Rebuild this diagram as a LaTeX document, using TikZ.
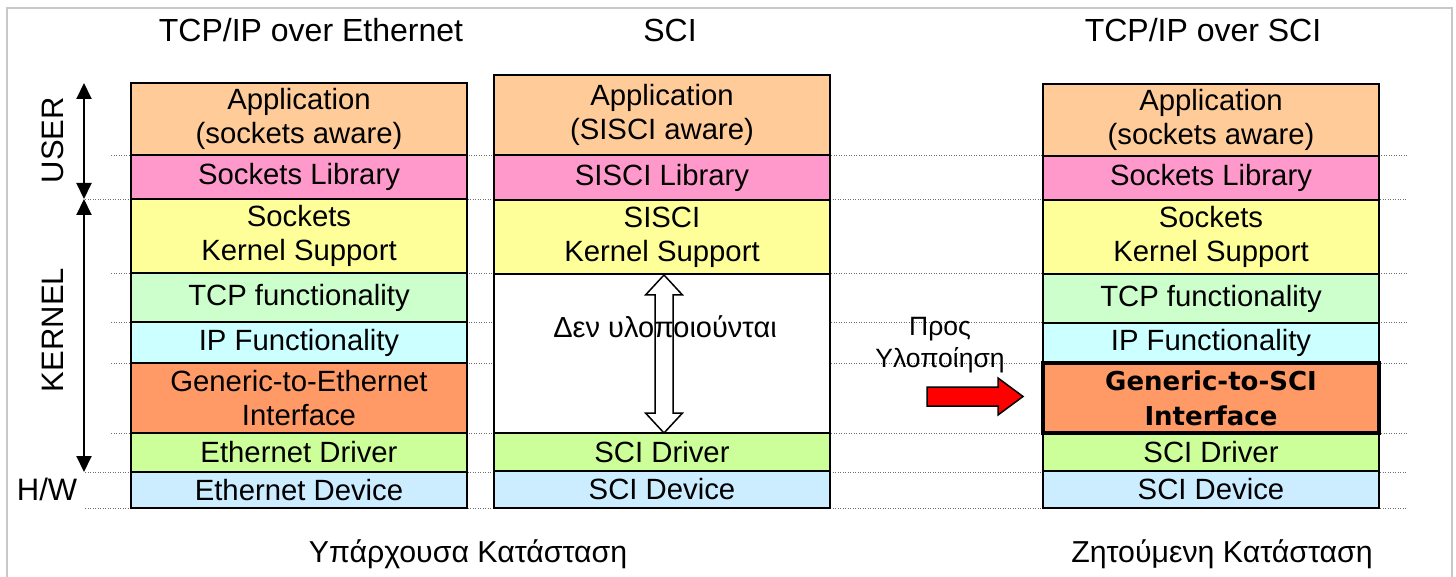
\documentclass[tikz,border=0pt]{standalone}
\usepackage{fontspec}
\setmainfont{Liberation Sans}
\newfontfamily\widebold{DejaVu Sans}
\usetikzlibrary{arrows.meta,calc}

\definecolor{appc}{RGB}{255,204,153}
\definecolor{libc}{RGB}{255,153,204}
\definecolor{ksc}{RGB}{255,255,153}
\definecolor{tcpc}{RGB}{204,255,204}
\definecolor{ipc}{RGB}{204,255,255}
\definecolor{genc}{RGB}{255,153,102}
\definecolor{drvc}{RGB}{204,255,153}
\definecolor{devc}{RGB}{204,236,255}
\definecolor{framec}{RGB}{200,200,200}
\definecolor{guidec}{RGB}{110,110,110}
\definecolor{pushred}{RGB}{255,0,0}

\tikzset{
  layer/.style={draw=black, line width=2pt, minimum width=336pt, inner sep=0pt,
    align=center, text=black, font=\fontsize{29.3}{34}\selectfont},
  guide/.style={draw=guidec, line width=0.9pt, dash pattern=on 1.2pt off 1.3pt},
  heading/.style={anchor=base, inner sep=0pt, font=\fontsize{32}{38}\selectfont},
  sidelabel/.style={anchor=base, inner sep=0pt, font=\fontsize{31}{37}\selectfont},
  caption/.style={anchor=base, inner sep=0pt, font=\fontsize{30.3}{36}\selectfont},
  note/.style={anchor=base, inner sep=0pt, font=\fontsize{26.5}{32}\selectfont},
  span/.style={line width=2pt,
    {Triangle[width=15pt,length=16pt]}-{Triangle[width=15pt,length=16pt]}},
}

\begin{document}
\begin{tikzpicture}[x=1pt,y=-1pt]
\useasboundingbox (0,0) rectangle (1456,577);

% outer frame (open at the bottom)
\draw[framec, line width=2pt] (7,577) -- (7,8) -- (1452,8) -- (1452,577);

% dotted level guides behind the stacks
\foreach \yy/\xs in {155/111, 199/85, 273/111, 322/111, 363/111, 433/111, 472/85, 508/85}
  \draw[guide] (\xs,\yy) -- (1407,\yy);

% titles
\node[heading] (h-eth) at (311,42) {TCP/IP over Ethernet};
\node[heading] (h-sci) at (670,42) {SCI};
\node[heading] (h-tcpsci) at (1203,42) {TCP/IP over SCI};

% stack: TCP/IP over Ethernet
\node[layer, fill=appc, minimum height=72pt] (e-app) at (299,119) {Application\\(sockets aware)};
\node[layer, fill=libc, minimum height=44pt] (e-lib) at (299,177) {Sockets Library};
\node[layer, fill=ksc,  minimum height=74pt] (e-ks)  at (299,236) {Sockets\\Kernel Support};
\node[layer, fill=tcpc, minimum height=49pt] (e-tcp) at (299,297.5) {TCP functionality};
\node[layer, fill=ipc,  minimum height=41pt] (e-ip)  at (299,342.5) {IP Functionality};
\node[layer, fill=genc, minimum height=70pt] (e-gen) at (299,398) {Generic-to-Ethernet\\Interface};
\node[layer, fill=drvc, minimum height=39pt] (e-drv) at (299,452.5) {Ethernet Driver};
\node[layer, fill=devc, minimum height=36pt] (e-dev) at (299,490) {Ethernet Device};

% stack: SCI
\node[layer, fill=appc, minimum height=80pt] (s-app) at (662,115) {Application\\(SISCI aware)};
\node[layer, fill=libc, minimum height=45pt] (s-lib) at (662,177.5) {SISCI Library};
\node[layer, fill=ksc,  minimum height=74pt] (s-ks)  at (662,237) {SISCI\\Kernel Support};
\node[layer, fill=white, minimum height=159pt] (s-gap) at (662,353.5) {};
\node[layer, fill=drvc, minimum height=38pt] (s-drv) at (662,452) {SCI Driver};
\node[layer, fill=devc, minimum height=37pt] (s-dev) at (662,489.5) {SCI Device};

% stack: TCP/IP over SCI
\node[layer, fill=appc, minimum height=72pt] (t-app) at (1211,120) {Application\\(sockets aware)};
\node[layer, fill=libc, minimum height=44pt] (t-lib) at (1211,178) {Sockets Library};
\node[layer, fill=ksc,  minimum height=74pt] (t-ks)  at (1211,237) {Sockets\\Kernel Support};
\node[layer, fill=tcpc, minimum height=49pt] (t-tcp) at (1211,298.5) {TCP functionality};
\node[layer, fill=ipc,  minimum height=40pt] (t-ip)  at (1211,343) {IP Functionality};
\node[layer, fill=drvc, minimum height=38pt] (t-drv) at (1211,452) {SCI Driver};
\node[layer, fill=devc, minimum height=37pt] (t-dev) at (1211,489.5) {SCI Device};
\node[layer, fill=genc, minimum height=70pt, line width=3.5pt,
      font=\widebold\bfseries\fontsize{26}{35}\selectfont] (t-gen) at (1211,398) {Generic-to-SCI\\Interface};

% privilege levels on the left
\coordinate (user-top) at (84,83);
\coordinate (split) at (84,199);
\coordinate (kernel-bot) at (84,472);
\draw[span] (user-top) -- (split);
\draw[span] (split) -- (kernel-bot);
\node[sidelabel, rotate=90] (l-user) at (63,140) {USER};
\node[sidelabel, rotate=90] (l-kernel) at (63,330) {KERNEL};
\node[sidelabel] (l-hw) at (47,500) {H/W};

% layers missing from the SCI stack
\draw[line width=1.5pt] (664,275) -- (682.5,295) -- (673,295) -- (673,413) -- (682.5,413)
  -- (664,433) -- (645.5,413) -- (655,413) -- (655,295) -- (645.5,295) -- cycle;
\node[anchor=base, inner sep=0pt, font=\fontsize{29}{34}\selectfont] (gap-note) at (665,337) {Δεν υλοποιούνται};

% implementation step
\node[note] (todo-1) at (940,335) {Προς};
\node[note] (todo-2) at (940,367) {Υλοποίηση};
\draw[fill=pushred, draw=black, line width=1.5pt] (927,387) -- (998,387) -- (998,378)
  -- (1023,396.5) -- (998,415) -- (998,406) -- (927,406) -- cycle;

% captions
\node[caption] (cap-now) at (468,562) {Υπάρχουσα Κατάσταση};
\node[caption] (cap-goal) at (1222,562) {Ζητούμενη Κατάσταση};
\end{tikzpicture}
\end{document}
